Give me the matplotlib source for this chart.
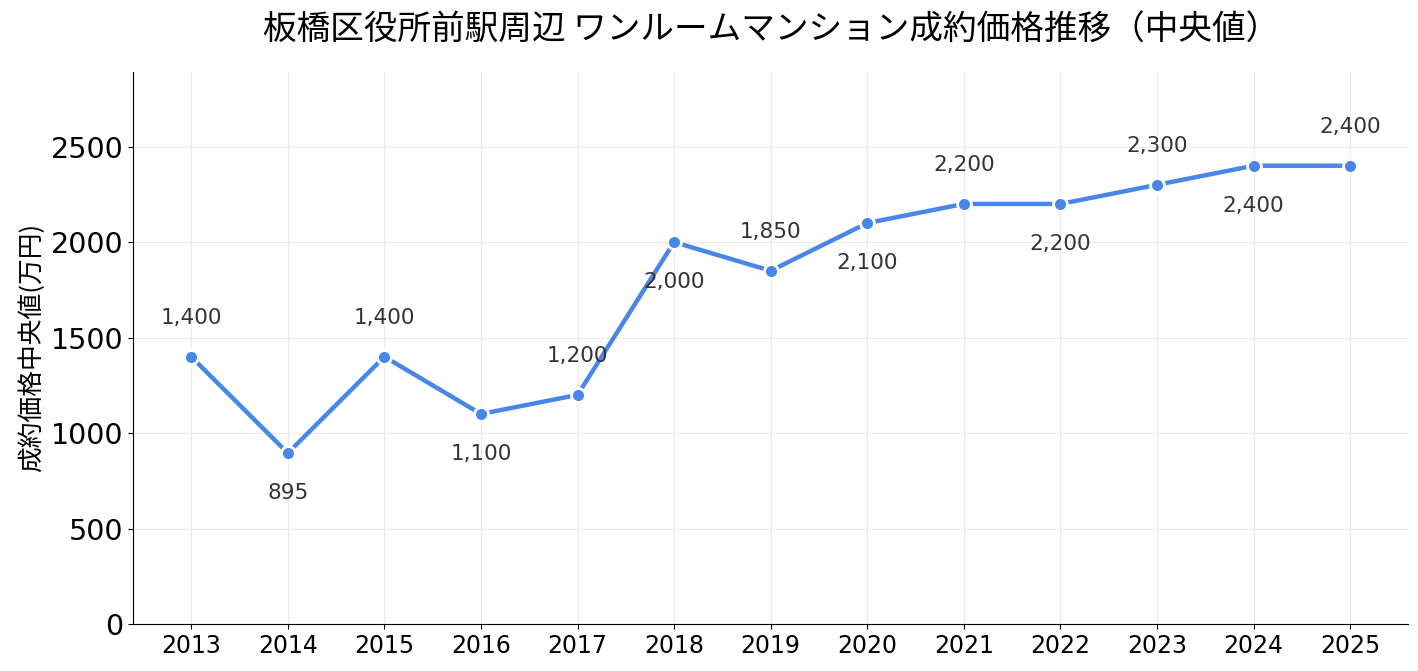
import matplotlib
matplotlib.use("Agg")
import matplotlib.pyplot as plt

plt.rcParams['font.family'] = ['DejaVu Sans', 'Noto Sans CJK JP']

years = [2013, 2014, 2015, 2016, 2017, 2018, 2019, 2020, 2021, 2022, 2023, 2024, 2025]
prices = [1400, 895, 1400, 1100, 1200, 2000, 1850, 2100, 2200, 2200, 2300, 2400, 2400]

title = "板橋区役所前駅周辺 ワンルームマンション成約価格推移（中央値）"
ylabel = "成約価格中央値(万円)"
line_color = "#4a86e8"

fig, ax = plt.subplots(figsize=(14.18, 6.71), dpi=100)
ax.plot(years, prices, color=line_color, linewidth=3.2, marker="o",
        markersize=10, markerfacecolor=line_color, markeredgecolor="white",
        markeredgewidth=2, zorder=3)

# ラベルは上下交互に
for i, (x, y) in enumerate(zip(years, prices)):
    off = 28 if i % 2 == 0 else -29
    ax.annotate(f"{y:,}", (x, y), xytext=(0, off), textcoords="offset points",
                ha="center", va="center", fontsize=15.5, color="#333333")

ax.set_xlim(2012.4, 2025.6)
ax.set_ylim(0, max(prices) * 1.205)
ax.set_xticks(years)
ax.set_yticks([0, 500, 1000, 1500, 2000, 2500])
ax.tick_params(axis="x", labelsize=17)
ax.tick_params(axis="y", labelsize=20.5)
ax.set_ylabel(ylabel, fontsize=18.5, family=['Noto Sans CJK JP', 'DejaVu Sans'])
ax.set_title(title, fontsize=24.2, pad=24, family=['Noto Sans CJK JP', 'DejaVu Sans'])
ax.grid(True, color="#ebebeb", linewidth=0.8)
ax.set_axisbelow(True)
ax.spines["top"].set_visible(False)
ax.spines["right"].set_visible(False)

plt.subplots_adjust(left=0.094, right=0.993, top=0.893, bottom=0.07)
plt.savefig("out.png")
